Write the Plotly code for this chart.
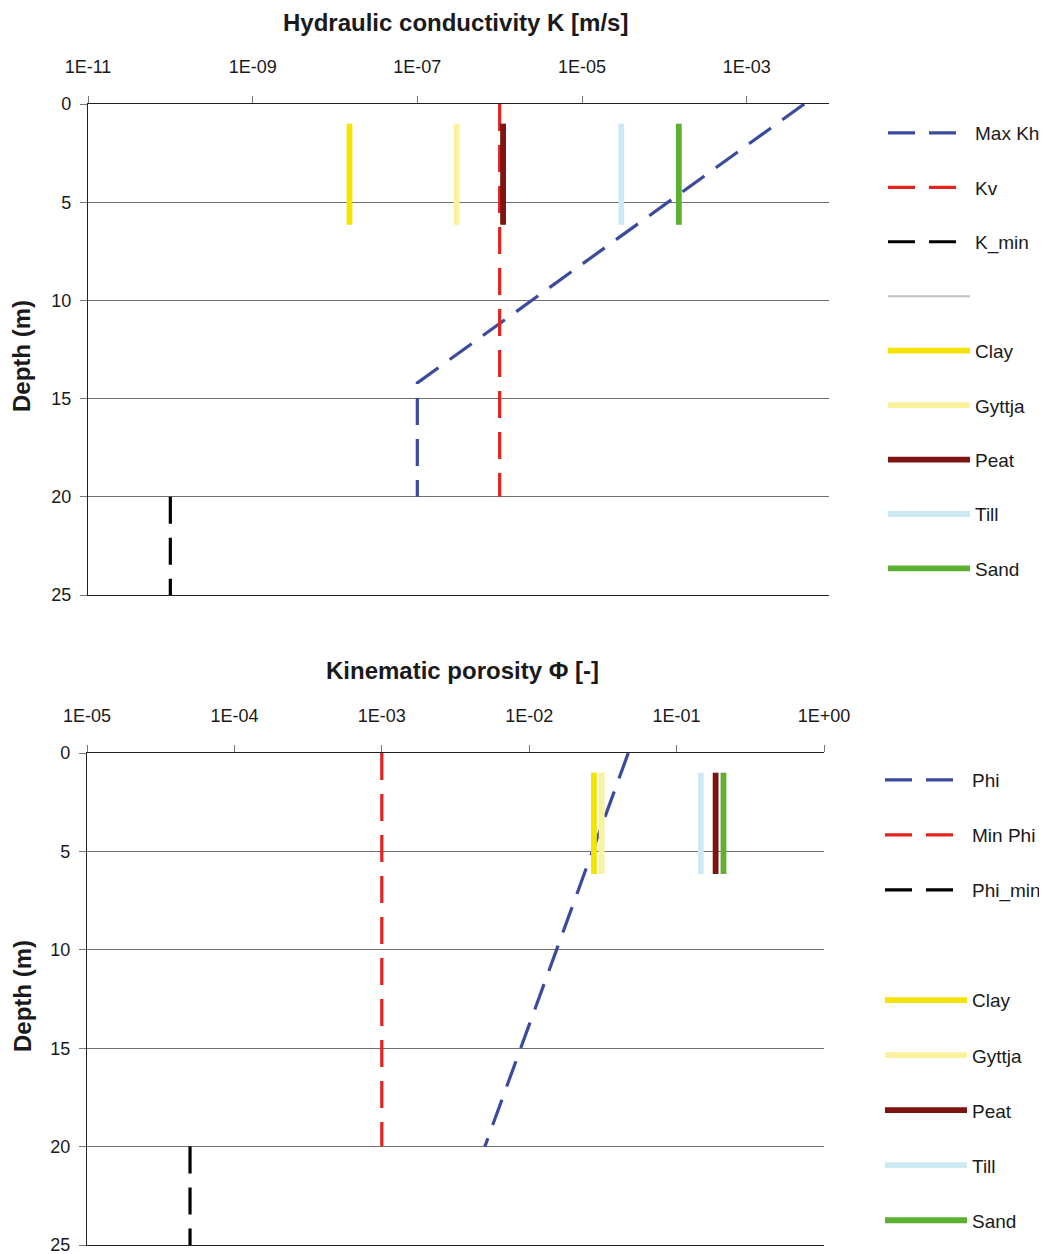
import plotly.graph_objects as go

# ---------------- data ----------------
# Hydraulic conductivity (top chart)
kh_depth = [0, 14.2, 20]
kh_value = [5e-3, 1e-7, 1e-7]
kv_depth = [0, 20]
kv_value = [1e-6, 1e-6]
kmin_depth = [20, 25]
kmin_value = [1e-10, 1e-10]

layer_depth = [1.0, 6.15]
layer_names = ["Clay", "Gyttja", "Peat", "Till", "Sand"]
layer_colors = ["#F5E400", "#FBF29E", "#7E1411", "#CDEAF3", "#5DB132"]
k_layers = [1.5e-8, 3e-7, 1.1e-6, 3e-5, 1.5e-4]

# Kinematic porosity (bottom chart)
phi_depth = [0, 20]
phi_value = [0.047, 0.005]
minphi_depth = [0, 20]
minphi_value = [1e-3, 1e-3]
phimin_depth = [20, 25]
phimin_value = [5e-5, 5e-5]
phi_layers = [0.0275, 0.031, 0.184, 0.146, 0.208]

k_ticks = [1e-11, 1e-9, 1e-7, 1e-5, 1e-3]
k_ticktext = ["1E-11", "1E-09", "1E-07", "1E-05", "1E-03"]
phi_ticks = [1e-5, 1e-4, 1e-3, 1e-2, 1e-1, 1e0]
phi_ticktext = ["1E-05", "1E-04", "1E-03", "1E-02", "1E-01", "1E+00"]
depth_ticks = [0, 5, 10, 15, 20, 25]

# ---------------- styling ----------------
OFF = 8                      # default page body margin
W, H = 1047 - OFF, 1254 - OFF
FONT = "Liberation Sans, Arial, sans-serif"
BLUE, RED, BLACK, GREY = "#3A4A9C", "#E5231E", "#000000", "#C0C0C0"
DASH = "27px,14px"
TXT = "#1a1a1a"


def px_x(p):
    return (p - OFF) / W


def px_y(p):
    return 1 - (p - OFF) / H


fig = go.Figure()


def dashed(x, y, name, color, xa, ya, leg, show=True):
    fig.add_trace(go.Scatter(
        x=x, y=y, mode="lines", name=name,
        line=dict(color=color, width=3.2, dash=DASH),
        xaxis=xa, yaxis=ya, legend=leg, legendgroup=leg + name,
        showlegend=show, hoverinfo="skip"))


# top chart
dashed(kh_value, kh_depth, "Max Kh", BLUE, "x", "y", "legend")
dashed(kv_value, kv_depth, "Kv", RED, "x", "y", "legend")
dashed(kmin_value, kmin_depth, "K_min", BLACK, "x", "y", "legend")
fig.add_trace(go.Scatter(x=[None], y=[None], mode="lines", name=" ",
                         line=dict(color=GREY, width=2), xaxis="x", yaxis="y",
                         legend="legend", legendgroup="legend_blank"))
for nm, col, v in zip(layer_names, layer_colors, k_layers):
    fig.add_trace(go.Scatter(x=[v, v], y=layer_depth, mode="lines", name=nm,
                             line=dict(color=col, width=5.8), xaxis="x", yaxis="y",
                             legend="legend", legendgroup="legend" + nm,
                             hoverinfo="skip"))

# bottom chart
dashed(phi_value, phi_depth, "Phi", BLUE, "x2", "y2", "legend2")
dashed(minphi_value, minphi_depth, "Min Phi", RED, "x2", "y2", "legend2")
dashed(phimin_value, phimin_depth, "Phi_min", BLACK, "x2", "y2", "legend2")
fig.add_trace(go.Scatter(x=[None], y=[None], mode="lines", name=" ",
                         line=dict(color="rgba(0,0,0,0)", width=2), xaxis="x2", yaxis="y2",
                         legend="legend2", legendgroup="legend2_blank"))
for nm, col, v in zip(layer_names, layer_colors, phi_layers):
    fig.add_trace(go.Scatter(x=[v, v], y=layer_depth, mode="lines", name=nm,
                             line=dict(color=col, width=5.8), xaxis="x2", yaxis="y2",
                             legend="legend2", legendgroup="legend2" + nm,
                             hoverinfo="skip"))

xcommon = dict(type="log", side="top", showgrid=False, zeroline=False,
               showline=True, linecolor="#222", linewidth=1.3, mirror=True,
               ticks="outside", ticklen=7, tickcolor="#777", tickwidth=1.2,
               ticklabelstandoff=16, automargin=False, ticklabeloverflow="allow",
               tickfont=dict(family=FONT, size=18, color=TXT))
ycommon = dict(range=[25, 0], tickvals=depth_ticks, showgrid=True,
               gridcolor="#707070", gridwidth=1.2, zeroline=False,
               showline=True, linecolor="#222", linewidth=1.3,
               ticks="outside", ticklen=7, tickcolor="#777", tickwidth=1.2,
               ticklabelstandoff=5, automargin=False, ticklabeloverflow="allow",
               tickfont=dict(family=FONT, size=18, color=TXT))

legcommon = dict(font=dict(family=FONT, size=19, color=TXT),
                 bgcolor="rgba(0,0,0,0)", borderwidth=0,
                 itemwidth=82, xanchor="left", yanchor="top",
                 itemclick=False, itemdoubleclick=False)

fig.update_layout(
    width=W, height=H,
    margin=dict(l=0, r=0, t=0, b=0, autoexpand=False),
    paper_bgcolor="white", plot_bgcolor="white",
    font=dict(family=FONT, color=TXT),
    xaxis=dict(xcommon, domain=[px_x(88), px_x(829)], range=[-11, -2],
               tickvals=k_ticks, ticktext=k_ticktext, anchor="y"),
    yaxis=dict(ycommon, domain=[px_y(595), px_y(104)], anchor="x"),
    xaxis2=dict(xcommon, domain=[px_x(87), px_x(824)], range=[-5, 0],
                tickvals=phi_ticks, ticktext=phi_ticktext, anchor="y2"),
    yaxis2=dict(ycommon, domain=[px_y(1245), px_y(753)], anchor="x2"),
    legend=dict(legcommon, x=px_x(883), y=px_y(114), tracegroupgap=26.75),
    legend2=dict(legcommon, x=px_x(880), y=px_y(761), tracegroupgap=27.35),
    showlegend=True,
    annotations=[
        dict(text="<b>Hydraulic conductivity K [m/s]</b>", x=px_x(455), y=px_y(22),
             xref="paper", yref="paper", showarrow=False, xanchor="center", yanchor="middle",
             font=dict(family=FONT, size=24, color=TXT)),
        dict(text="<b>Kinematic porosity Φ [-]</b>", x=px_x(462), y=px_y(670),
             xref="paper", yref="paper", showarrow=False, xanchor="center", yanchor="middle",
             font=dict(family=FONT, size=24, color=TXT)),
        dict(text="<b>Depth (m)</b>", x=px_x(22), y=px_y(356), textangle=-90,
             xref="paper", yref="paper", showarrow=False, xanchor="center", yanchor="middle",
             font=dict(family=FONT, size=24, color=TXT)),
        dict(text="<b>Depth (m)</b>", x=px_x(22), y=px_y(996), textangle=-90,
             xref="paper", yref="paper", showarrow=False, xanchor="center", yanchor="middle",
             font=dict(family=FONT, size=24, color=TXT)),
    ],
)

fig.write_html("out.html")
